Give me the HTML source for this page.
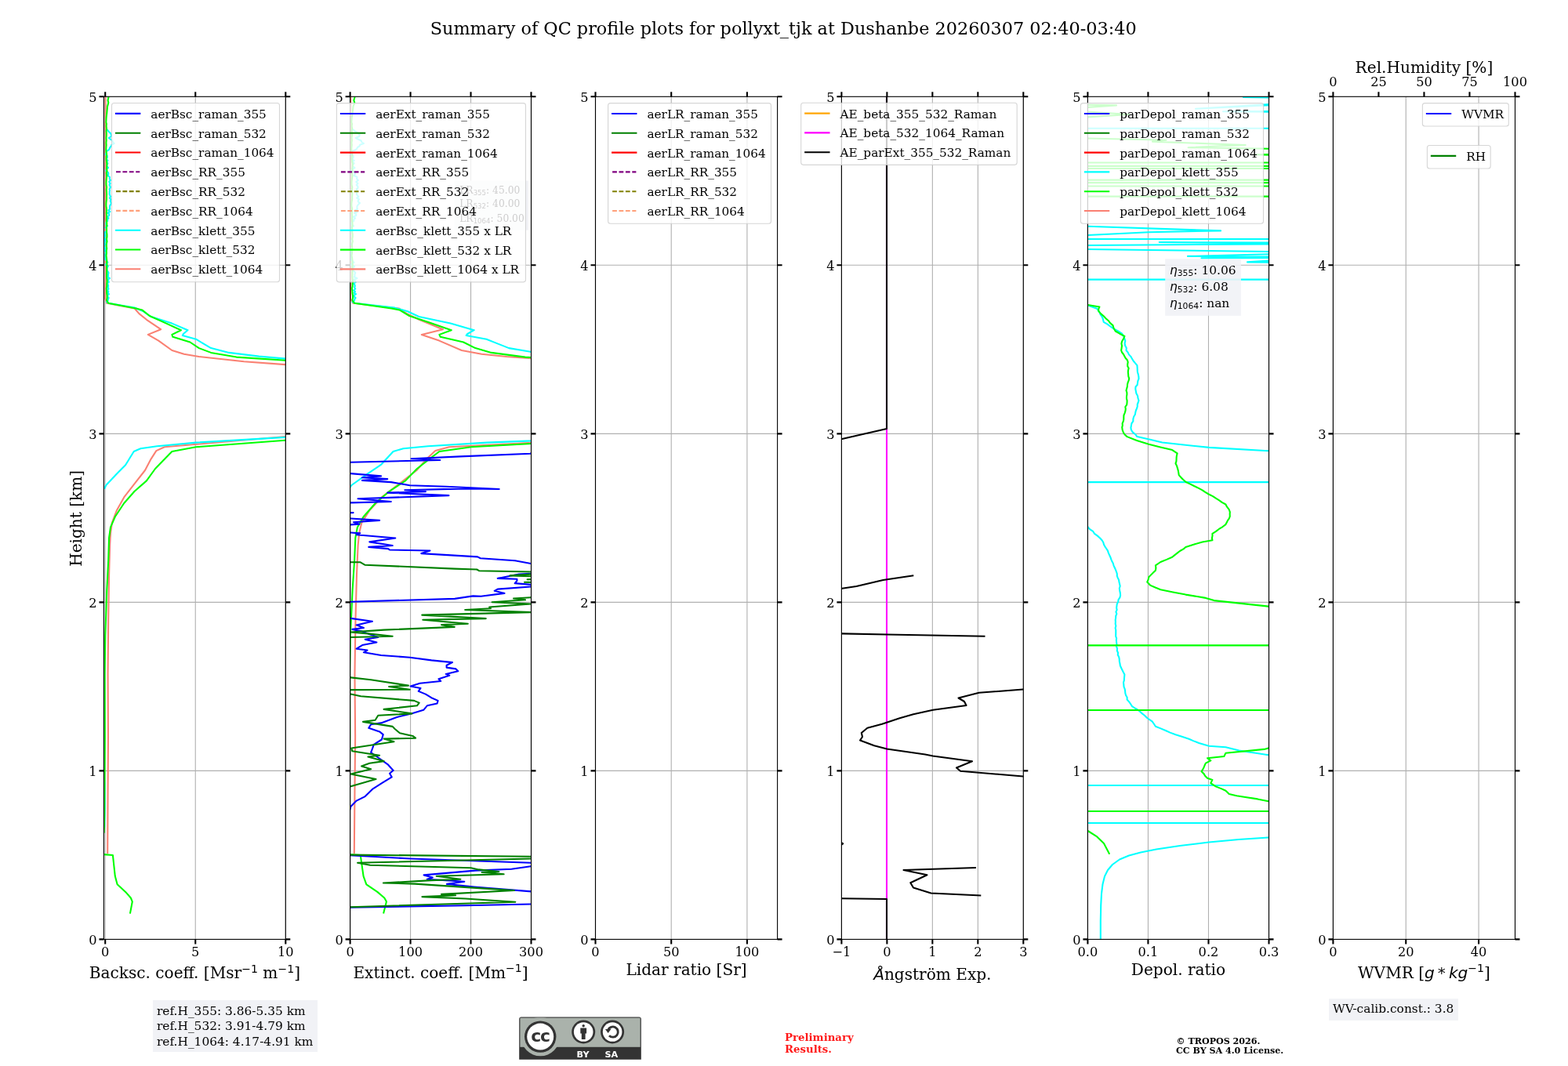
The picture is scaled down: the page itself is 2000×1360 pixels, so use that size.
<!DOCTYPE html><html><head><meta charset="utf-8"><title>QC profile summary</title>
<style>html,body{margin:0;padding:0;background:#fff;overflow:hidden}svg{display:block}</style></head><body>
<svg width="2000" height="1360" viewBox="0 0 2000 1360" font-family="'DejaVu Serif', 'Liberation Serif', serif">
<rect x="0" y="0" width="2000" height="1360" fill="#fff"/>
<defs>
<clipPath id="c0"><rect x="132.45" y="123.3" width="231.85" height="1075.1"/></clipPath>
<clipPath id="c1"><rect x="446.6" y="123.3" width="230.9" height="1075.1"/></clipPath>
<clipPath id="c2"><rect x="759.5" y="123.3" width="232.1" height="1075.1"/></clipPath>
<clipPath id="c3"><rect x="1073.4" y="123.3" width="231.9" height="1075.1"/></clipPath>
<clipPath id="c4"><rect x="1387.4" y="123.3" width="231.1" height="1075.1"/></clipPath>
<clipPath id="c5"><rect x="1700.4" y="123.3" width="232.1" height="1075.1"/></clipPath>
</defs>
<text x="999.2" y="43.6" font-size="22.35" text-anchor="middle">Summary of QC profile plots for pollyxt_tjk at Dushanbe 20260307 02:40-03:40</text>
<path d="M134.21 123.3V1198.4M249.25 123.3V1198.4M364.3 123.3V1198.4M132.45 983.38H364.3M132.45 768.36H364.3M132.45 553.34H364.3M132.45 338.32H364.3" stroke="#b0b0b0" stroke-width="1.1" fill="none"/>
<polyline points="134.48,123 134.51,129 134.68,135 134.57,141 134.54,147 134.56,153 134.4,159 134.46,165 134.53,171 134.63,177 134.4,183 134.37,189 134.27,195 134.51,201 134.58,207 134.36,213 134.62,219 134.75,225 134.68,231 134.64,237 134.43,243 134.27,249 134.4,255 134.27,261 134.26,267 134.28,273 134.2,279 134.34,285 134.39,291 134.58,297 134.55,303 134.58,309 134.54,315 134.59,321 134.53,327 134.42,333 134.66,339 134.78,345 134.78,351 134.72,357 134.54,363 134.41,369 134.37,375 134.26,381 136.3,386.8 171.6,393.5 177.4,400.1 186.9,407.8 205.1,420.2 188.8,426.9 202.2,434.6 219.4,447 234.7,451.8 253.8,455 311.2,461.3 363.8,465.1 420,468 3000,480 3000,545 420,555 363.8,557 253.8,566.5 209.9,570.3 199.3,575.1 192.6,585.6 185,600 171.6,617.2 158.2,634.4 148.7,651.6 142.9,666.9 141,680.3 140.1,695.6 139.1,733.8 138.2,791.2 137.6,860 138,940 137.6,1010 137.2,1089.1" fill="none" stroke="#fa8072" stroke-width="2.08" stroke-linejoin="round" stroke-linecap="butt" clip-path="url(#c0)"/>
<polyline points="135.62,164.4 137.28,166.2 138.77,168 140.9,170 142.12,172 141.85,174 138.78,176 141.06,177.75 143.45,179.5 143.84,181.25 145.64,183 142.39,184.67 142.12,186.33 140.34,188 139.78,189.67 138.53,191.33 135.73,193 135.41,195 134.73,197 136.78,199 136.79,201 135.61,203 137.47,204.8 135.96,206.6 137.41,208.4 136.33,210.2 136.2,212 137.97,214 135.74,216 135.26,218 137.92,220 138.3,222 137.45,224 140,226 139.7,228 140.86,230 139.17,232 140.61,234 139.5,236 140.56,237.75 140.72,239.5 139.53,241.25 140.04,243 139.64,244.6 139.7,246.2 139.6,247.8 140.32,249.4 141.22,251 139.77,252.6 141.63,254.2 140.86,255.8 140.9,257.4 142.33,259 140.95,261 140.02,263 139.95,265 140.24,266.67 138.27,268.33 140.37,270 137.6,271.67 139.21,273.33 139.16,275 136.72,276.67 138.44,278.33 137.05,280 137.28,281.67 135.48,283.33 135.25,285 135.28,286.67 136.97,288.33 134.68,290 135.81,291.67 135.94,293.33 135.65,295 133.86,296.6 133.64,298.2 133.84,299.8 134.26,301.4 132.28,303 134,304.75 134.17,306.5 134.39,308.25 132.3,310 134.74,311.67 132.6,313.33 133.34,315 134.12,316.67 135,318.33 133.58,320 135.35,321.67 134.62,323.33 134.26,325 134.52,326.67 134.41,328.33 134.4,330 134.75,331.62 136.32,333.25 137.28,334.88 135.27,336.5 135.14,338.12 137.74,339.75 136.72,341.38 136.56,343 136.42,344.71 137.64,346.43 138.55,348.14 137.88,349.86 138.1,351.57 137.44,353.29 139.98,355 137.37,356.67 138.25,358.33 138.83,360 136.67,361.67 137.92,363.33 138.17,365 137.71,366.75 138.5,368.5 137.1,370.25 138.33,372 137.37,373.6 138.96,375.2 137.31,376.8 137.5,378.4 138.7,380 137.85,381.67 137.7,383.33 136,385 138.2,386.8 171.6,392.5 183,397.3 192.6,404 219.4,412.6 239.5,421.2 233.8,426 232.8,427.9 250,432.7 257.7,437.4 269.1,444.1 292.1,449.9 330.3,454.6 364.4,457.6 420,459 3000,470 3000,545 420,556 363.8,557.9 250,564.6 200.3,569.3 179.3,572.2 170.7,576 160.1,593.2 148.7,604.7 135.3,619 133.4,623 100,628" fill="none" stroke="#00ffff" stroke-width="2.08" stroke-linejoin="round" stroke-linecap="butt" clip-path="url(#c0)"/>
<polyline points="110,975 132.6,984 133.4,1000 133.6,1030 133.2,1055 110,1062" fill="none" stroke="#00ffff" stroke-width="2.08" stroke-linejoin="round" stroke-linecap="butt" clip-path="url(#c0)"/>
<polyline points="138.6,123 138.4,124.3 137.6,128 138.3,131 137,136 136.2,145 135.6,150 135.3,156 135.82,158 135.56,161 135.93,164 135.54,167 135.81,170 135.77,173 135.44,176 135.73,179 135.4,182 135.63,185 135.39,188 135.28,191 135.57,194 136.11,197 135.68,200 135.56,203 135.91,206 136.4,209 136.28,212 136.04,215 136.49,218 135.79,221 136.26,224 135.92,227 135.6,230 135.42,233 135.52,236 136.08,239 135.72,242 135.94,245 136.11,248 135.93,251 136.01,254 135.57,257 135.34,260 135.38,263 135.87,266 135.86,269 135.75,272 135.96,275 135.93,278 135.77,281 136.18,284 136.29,287 135.89,290 136.02,293 136.03,296 136.39,299 136.43,302 136,305 136.48,308 135.86,311 135.85,314 136.18,317 135.74,320 135.86,323 135.47,326 135.9,329 136.22,332 136.18,335 136.47,338 136.05,341 136.22,344 136.2,347 136.18,350 136.05,353 136.36,356 136.63,359 136.29,362 136.31,365 135.71,368 136.06,371 136.18,374 136.58,377 136.61,380 136.09,383 138.2,386.8 173.5,393.5 181.2,395.4 190.7,403 209.9,411.6 230.9,421.2 219.4,426.9 220.4,429.8 242.4,436.5 253.8,444.1 269.1,449.9 301.6,455.6 363.8,459.8 420,461 3000,470 3000,545 420,560 363.8,561.7 250,570.3 219.4,576 211.8,583.7 198,598 186.9,613.4 171.6,626.8 158.2,642 146.8,659.3 141,672.7 139.1,686 138.2,714.7 136.3,753 134.3,810.3 133.6,860 133.8,940 133.2,1040 132.6,1062 110,1068" fill="none" stroke="#00ff00" stroke-width="2.08" stroke-linejoin="round" stroke-linecap="butt" clip-path="url(#c0)"/>
<polyline points="110,1090 132.4,1090.1 143.9,1091 146.8,1117.8 149.6,1128.3 160.1,1137.9 166.8,1145.5 168.8,1150.3 165.9,1165.6" fill="none" stroke="#00ff00" stroke-width="2.08" stroke-linejoin="round" stroke-linecap="butt" clip-path="url(#c0)"/>
<rect x="132.45" y="123.3" width="231.85" height="1075.1" fill="none" stroke="#000" stroke-width="1.11"/>
<path d="M126.45 1198.4H132.45M364.3 1198.4H370.3M126.45 983.38H132.45M364.3 983.38H370.3M126.45 768.36H132.45M364.3 768.36H370.3M126.45 553.34H132.45M364.3 553.34H370.3M126.45 338.32H132.45M364.3 338.32H370.3M126.45 123.3H132.45M364.3 123.3H370.3M134.21 1198.4V1204.4M134.21 117.3V123.3M249.25 1198.4V1204.4M249.25 117.3V123.3M364.3 1198.4V1204.4M364.3 117.3V123.3" stroke="#000" stroke-width="2.08" fill="none"/>
<text x="123.55" y="1205.2" font-size="16.2" text-anchor="end">0</text>
<text x="123.55" y="990.18" font-size="16.2" text-anchor="end">1</text>
<text x="123.55" y="775.16" font-size="16.2" text-anchor="end">2</text>
<text x="123.55" y="560.14" font-size="16.2" text-anchor="end">3</text>
<text x="123.55" y="345.12" font-size="16.2" text-anchor="end">4</text>
<text x="123.55" y="130.1" font-size="16.2" text-anchor="end">5</text>
<text x="134.21" y="1219.7" font-size="16.2" text-anchor="middle">0</text>
<text x="249.25" y="1219.7" font-size="16.2" text-anchor="middle">5</text>
<text x="364.3" y="1219.7" font-size="16.2" text-anchor="middle">10</text>
<path d="M446.6 123.3V1198.4M523.57 123.3V1198.4M600.53 123.3V1198.4M677.5 123.3V1198.4M446.6 983.38H677.5M446.6 768.36H677.5M446.6 553.34H677.5M446.6 338.32H677.5" stroke="#b0b0b0" stroke-width="1.1" fill="none"/>
<polyline points="447.27,123 447.32,129 447.59,135 447.42,141 447.37,147 447.39,153 447.14,159 447.23,165 447.35,171 447.52,177 447.14,183 447.09,189 446.92,195 447.32,201 447.44,207 447.06,213 447.5,219 447.71,225 447.61,231 447.53,237 447.19,243 446.92,249 447.13,255 446.92,261 446.9,267 446.93,273 446.8,279 447.03,285 447.12,291 447.44,297 447.38,303 447.43,309 447.37,315 447.44,321 447.34,327 447.17,333 447.57,339 447.76,345 447.76,351 447.67,357 447.36,363 447.15,369 447.08,375 446.91,381 450.3,386.8 509.13,393.5 518.8,400.1 534.63,407.8 564.97,420.2 537.8,426.9 560.13,434.6 588.8,447 614.3,451.8 646.13,455 741.8,461.3 829.47,465.1 923.13,468 5223.13,480 5223.13,545 923.13,555 829.47,557 646.13,566.5 572.97,570.3 555.3,575.1 544.13,585.6 531.47,600 509.13,617.2 486.8,634.4 470.97,651.6 461.3,666.9 458.13,680.3 456.63,695.6 454.97,733.8 453.47,791.2 452.47,860 453.13,940 452.47,1010 451.8,1089.1" fill="none" stroke="#fa8072" stroke-width="2.08" stroke-linejoin="round" stroke-linecap="butt" clip-path="url(#c1)"/>
<polyline points="448.93,164.4 451.42,166.2 453.65,168 456.85,170 458.69,172 458.27,174 453.66,176 457.09,177.75 460.68,179.5 461.26,181.25 463.96,183 459.09,184.67 458.68,186.33 456.01,188 455.17,189.67 453.29,191.33 449.1,193 448.62,195 447.59,197 450.67,199 450.69,201 448.92,203 451.71,204.8 449.44,206.6 451.61,208.4 449.99,210.2 449.81,212 452.45,214 449.12,216 448.39,218 452.38,220 452.95,222 451.68,224 455.5,226 455.05,228 456.79,230 454.25,232 456.42,234 454.74,236 456.34,237.75 456.59,239.5 454.79,241.25 455.56,243 454.96,244.6 455.05,246.2 454.9,247.8 455.99,249.4 457.33,251 455.15,252.6 457.95,254.2 456.79,255.8 456.84,257.4 458.99,259 456.92,261 455.53,263 455.43,265 455.86,266.67 452.91,268.33 456.05,270 451.91,271.67 454.31,273.33 454.25,275 450.59,276.67 453.16,278.33 451.08,280 451.42,281.67 448.72,283.33 448.38,285 448.42,286.67 450.96,288.33 447.52,290 449.21,291.67 449.41,293.33 448.97,295 446.28,296.6 445.96,298.2 446.27,299.8 446.88,301.4 443.92,303 446.49,304.75 446.76,306.5 447.08,308.25 443.94,310 447.61,311.67 444.41,313.33 445.5,315 446.68,316.67 448.01,318.33 445.88,320 448.53,321.67 447.43,323.33 446.89,325 447.29,326.67 447.12,328.33 447.1,330 447.62,331.62 449.98,333.25 451.42,334.88 448.4,336.5 448.21,338.12 452.11,339.75 450.59,341.38 450.33,343 450.13,344.71 451.97,346.43 453.32,348.14 452.33,349.86 452.64,351.57 451.67,353.29 455.47,355 451.55,356.67 452.87,358.33 453.74,360 450.51,361.67 452.38,363.33 452.75,365 452.07,366.75 453.25,368.5 451.15,370.25 452.99,372 451.55,373.6 453.93,375.2 451.46,376.8 451.75,378.4 453.55,380 452.27,381.67 452.06,383.33 449.5,385 452.8,386.8 502.9,392.5 520,397.3 534.4,404 574.6,412.6 604.75,421.2 596.2,426 594.7,427.9 620.5,432.7 632.05,437.4 649.15,444.1 683.65,449.9 740.95,454.6 792.1,457.6 875.5,459 4745.5,470 4745.5,545 875.5,556 791.2,557.9 620.5,564.6 545.95,569.3 514.45,572.2 501.55,576 485.65,593.2 468.55,604.7 448.45,619 445.6,623 395.5,628" fill="none" stroke="#00ffff" stroke-width="2.08" stroke-linejoin="round" stroke-linecap="butt" clip-path="url(#c1)"/>
<polyline points="410.5,975 444.4,984 445.6,1000 445.9,1030 445.3,1055 410.5,1062" fill="none" stroke="#00ffff" stroke-width="2.08" stroke-linejoin="round" stroke-linecap="butt" clip-path="url(#c1)"/>
<polyline points="452.67,123 452.4,124.3 451.33,128 452.27,131 450.53,136 449.47,145 448.67,150 448.27,156 448.97,158 448.62,161 449.11,164 448.58,167 448.94,170 448.89,173 448.46,176 448.84,179 448.4,182 448.71,185 448.38,188 448.25,191 448.62,194 449.35,197 448.77,200 448.62,203 449.08,206 449.74,209 449.57,212 449.25,215 449.86,218 448.92,221 449.54,224 449.09,227 448.67,230 448.43,233 448.56,236 449.3,239 448.82,242 449.12,245 449.35,248 449.1,251 449.22,254 448.62,257 448.33,260 448.37,263 449.03,266 449.02,269 448.86,272 449.14,275 449.11,278 448.89,281 449.44,284 449.58,287 449.05,290 449.22,293 449.25,296 449.72,299 449.77,302 449.2,305 449.84,308 449.01,311 449,314 449.44,317 448.86,320 449.01,323 448.49,326 449.07,329 449.49,332 449.44,335 449.82,338 449.26,341 449.49,344 449.47,347 449.44,350 449.26,353 449.68,356 450.04,359 449.58,362 449.61,365 448.82,368 449.28,371 449.44,374 449.98,377 450.02,380 449.32,383 452.13,386.8 499.2,393.5 509.47,395.4 522.13,403 547.73,411.6 575.73,421.2 560.4,426.9 561.73,429.8 591.07,436.5 606.27,444.1 626.67,449.9 670,455.6 752.93,459.8 827.87,461 4267.87,470 4267.87,545 827.87,560 752.93,561.7 601.2,570.3 560.4,576 550.27,583.7 531.87,598 517.07,613.4 496.67,626.8 478.8,642 463.6,659.3 455.87,672.7 453.33,686 452.13,714.7 449.6,753 446.93,810.3 446,860 446.27,940 445.47,1040 444.67,1062 414.53,1068" fill="none" stroke="#00ff00" stroke-width="2.08" stroke-linejoin="round" stroke-linecap="butt" clip-path="url(#c1)"/>
<polyline points="414.53,1090 444.4,1090.1 459.73,1091 463.6,1117.8 467.33,1128.3 481.33,1137.9 490.27,1145.5 492.93,1150.3 489.07,1165.6" fill="none" stroke="#00ff00" stroke-width="2.08" stroke-linejoin="round" stroke-linecap="butt" clip-path="url(#c1)"/>
<polyline points="720,576 680,577.5 676.2,578.7 587,582.4 524.6,585.2 561.3,587 447.4,589.8 420,590.3" fill="none" stroke="#0000ff" stroke-width="2.08" stroke-linejoin="round" stroke-linecap="butt" clip-path="url(#c1)"/>
<polyline points="420,603.5 447.4,604.1 486,607.4 462,609.3 494.2,611.1 462,612.9 498.8,615.1 522.7,619.2 568.7,620.7 636.7,624 596.3,623.4 516.3,625.3 542.9,627.1 494.2,628.6 572.4,632.1 456.5,636.3 498.8,640 447.4,641.4 420,642" fill="none" stroke="#0000ff" stroke-width="2.08" stroke-linejoin="round" stroke-linecap="butt" clip-path="url(#c1)"/>
<polyline points="420,654 450.6,654.1 420,654.4" fill="none" stroke="#0000ff" stroke-width="2.08" stroke-linejoin="round" stroke-linecap="butt" clip-path="url(#c1)"/>
<polyline points="420,661.3 447.4,661.5 484.1,663.9 451,666.3 458.4,668.8 447.4,669.4 420,669.8" fill="none" stroke="#0000ff" stroke-width="2.08" stroke-linejoin="round" stroke-linecap="butt" clip-path="url(#c1)"/>
<polyline points="420,679.3 447.4,679.5 459.3,680.4 454.7,682.2 504.3,686.5 471.3,691.4 500.7,696 470.3,697.9 495.1,700.1 497,701.5 548.5,702.5 537.4,706.1 609.1,710.4 612.8,712.2 656.9,715.3 677.1,719 720,724" fill="none" stroke="#0000ff" stroke-width="2.08" stroke-linejoin="round" stroke-linecap="butt" clip-path="url(#c1)"/>
<polyline points="720,731.5 677,731.7 662,732.6 634.7,737.9 659.4,738.8 659.4,741 656.7,744.1 677,745.9 720,747 677,748.5 634.7,751.6 630.7,753.8 643.5,756.9 613.5,760.8 603.4,760.4 580,763.9 447.4,767.7 420,768" fill="none" stroke="#0000ff" stroke-width="2.08" stroke-linejoin="round" stroke-linecap="butt" clip-path="url(#c1)"/>
<polyline points="420,788.5 447.4,788.9 474.9,792.8 454.7,797.4 463.9,801 449.2,802.9 462.1,805.6 469.4,808.4 482.3,813 465.7,815.7 480.4,819.4 462.1,823.1 454.7,827.7 468.5,829.5 463.9,832.3 486,836 522.7,838.7 550.3,842.4 577,845.1 569.6,848.8 569.6,851.6 581.5,853.4 584.3,856.2 568.7,859.9 573.3,861.7 559.5,866.3 562.2,869 535.6,871.8 523.6,875.5 536.5,877.9 533.8,881.9 542.9,885.6 550.3,890.2 558.6,893.9 557.6,897.5 544.8,900.3 540.2,905.8 524.6,910.4 506.2,915 486,922.4 473.1,924.2 470.3,928.8 484.1,933.4 488.7,937.1 486.9,943.5 476.8,949.9 474.9,955.4 473.1,960 482.3,966.5 495.1,975.7 501.6,983 497,986.7 499.7,991.3 487.8,998.6 474.9,1006.9 465.7,1016.1 454.7,1021.6 447.4,1029 446.4,1032.6 420,1040" fill="none" stroke="#0000ff" stroke-width="2.08" stroke-linejoin="round" stroke-linecap="butt" clip-path="url(#c1)"/>
<polyline points="420,1091 446.3,1091.3 523.8,1095.5 676.9,1100.8 720,1102 720,1104 676.9,1105.2 652.4,1108.7 606.3,1110.6 540.6,1116.4 551.8,1119.5 544.8,1121.7 592.3,1124.8 570,1127.9 604.9,1131.5 677.6,1137.4 720,1141 720,1152 676.9,1153.5 593.7,1155.3 446.3,1157.6 420,1158" fill="none" stroke="#0000ff" stroke-width="2.08" stroke-linejoin="round" stroke-linecap="butt" clip-path="url(#c1)"/>
<polyline points="420,717 447.4,717.2 459.3,717.2 465.7,720.8 580,725.6 600,726.2 608.2,726.5 611,728.2 677,729.5 720,730 720,732.4 677,732.6 650.5,734.4 677,735.3 720,736 720,738.5 672.6,739.2 720,740 720,742.5 669,742.8 720,743.5 720,761 677,762.2 655,763.5 670,765.3 627.6,768.3 677,770.5 624.1,774.5 625.9,776.3 593.2,778 677,781.1 538.3,784.6 619.7,789.1 539.3,790.7 596.8,795.7 563.2,797.1 579.7,799.9 489.6,803.6 447.4,806.5 469.4,808.4 500.7,811.7 447.4,813 420,813.5" fill="none" stroke="#008000" stroke-width="2.08" stroke-linejoin="round" stroke-linecap="butt" clip-path="url(#c1)"/>
<polyline points="420,864 447.4,864.4 473.1,867.2 520.9,874.6 496.1,876 522.7,879.7 447.4,880.1 420,880.5" fill="none" stroke="#008000" stroke-width="2.08" stroke-linejoin="round" stroke-linecap="butt" clip-path="url(#c1)"/>
<polyline points="420,885.4 447.4,885.6 460.2,888.3 528.2,893.9 534.7,896.6 531.9,900.3 489.6,904.9 525.5,910.4 482.3,912.8 478.6,918.7 463,920.9 500.7,926.9 503.4,929.7 509.9,935.2 526.4,938.9 530.1,941.7 489.6,942.6 502.5,946.3 448.3,954.5 449.2,958.2 484.1,963.7 469.4,965.5 489.6,971.1 471.3,973.8 461.1,977.5 473.1,981.2 447.4,987.6 479.5,994 447.4,1003.2 420,1005" fill="none" stroke="#008000" stroke-width="2.08" stroke-linejoin="round" stroke-linecap="butt" clip-path="url(#c1)"/>
<polyline points="420,1090.5 447,1090.6 676.9,1092.7 720,1093 720,1095 676.9,1095.5 456.1,1100.8 472.1,1103.8 600.7,1107.3 610.5,1109.4 636.3,1112 614.7,1112.9 642.6,1115.3 556.7,1117.8 587.4,1121.7 550.4,1123.1 488.9,1126.5 529.4,1127.6 607.7,1132.9 655.9,1136 563,1140.9 581.1,1142.3 538.5,1144.1 593.7,1146.5 657.3,1150.7 447,1157.2 420,1157.5" fill="none" stroke="#008000" stroke-width="2.08" stroke-linejoin="round" stroke-linecap="butt" clip-path="url(#c1)"/>
<rect x="446.6" y="123.3" width="230.9" height="1075.1" fill="none" stroke="#000" stroke-width="1.11"/>
<path d="M440.6 1198.4H446.6M677.5 1198.4H683.5M440.6 983.38H446.6M677.5 983.38H683.5M440.6 768.36H446.6M677.5 768.36H683.5M440.6 553.34H446.6M677.5 553.34H683.5M440.6 338.32H446.6M677.5 338.32H683.5M440.6 123.3H446.6M677.5 123.3H683.5M446.6 1198.4V1204.4M446.6 117.3V123.3M523.57 1198.4V1204.4M523.57 117.3V123.3M600.53 1198.4V1204.4M600.53 117.3V123.3M677.5 1198.4V1204.4M677.5 117.3V123.3" stroke="#000" stroke-width="2.08" fill="none"/>
<text x="437.7" y="1205.2" font-size="16.2" text-anchor="end">0</text>
<text x="437.7" y="990.18" font-size="16.2" text-anchor="end">1</text>
<text x="437.7" y="775.16" font-size="16.2" text-anchor="end">2</text>
<text x="437.7" y="560.14" font-size="16.2" text-anchor="end">3</text>
<text x="437.7" y="345.12" font-size="16.2" text-anchor="end">4</text>
<text x="437.7" y="130.1" font-size="16.2" text-anchor="end">5</text>
<text x="446.6" y="1219.7" font-size="16.2" text-anchor="middle">0</text>
<text x="523.57" y="1219.7" font-size="16.2" text-anchor="middle">100</text>
<text x="600.53" y="1219.7" font-size="16.2" text-anchor="middle">200</text>
<text x="677.5" y="1219.7" font-size="16.2" text-anchor="middle">300</text>
<path d="M759.5 123.3V1198.4M856.21 123.3V1198.4M952.92 123.3V1198.4M759.5 983.38H991.6M759.5 768.36H991.6M759.5 553.34H991.6M759.5 338.32H991.6" stroke="#b0b0b0" stroke-width="1.1" fill="none"/>
<rect x="759.5" y="123.3" width="232.1" height="1075.1" fill="none" stroke="#000" stroke-width="1.11"/>
<path d="M753.5 1198.4H759.5M991.6 1198.4H997.6M753.5 983.38H759.5M991.6 983.38H997.6M753.5 768.36H759.5M991.6 768.36H997.6M753.5 553.34H759.5M991.6 553.34H997.6M753.5 338.32H759.5M991.6 338.32H997.6M753.5 123.3H759.5M991.6 123.3H997.6M759.5 1198.4V1204.4M759.5 117.3V123.3M856.21 1198.4V1204.4M856.21 117.3V123.3M952.92 1198.4V1204.4M952.92 117.3V123.3" stroke="#000" stroke-width="2.08" fill="none"/>
<text x="750.6" y="1205.2" font-size="16.2" text-anchor="end">0</text>
<text x="750.6" y="990.18" font-size="16.2" text-anchor="end">1</text>
<text x="750.6" y="775.16" font-size="16.2" text-anchor="end">2</text>
<text x="750.6" y="560.14" font-size="16.2" text-anchor="end">3</text>
<text x="750.6" y="345.12" font-size="16.2" text-anchor="end">4</text>
<text x="750.6" y="130.1" font-size="16.2" text-anchor="end">5</text>
<text x="759.5" y="1219.7" font-size="16.2" text-anchor="middle">0</text>
<text x="856.21" y="1219.7" font-size="16.2" text-anchor="middle">50</text>
<text x="952.92" y="1219.7" font-size="16.2" text-anchor="middle">100</text>
<path d="M1073.4 123.3V1198.4M1131.38 123.3V1198.4M1189.35 123.3V1198.4M1247.33 123.3V1198.4M1305.3 123.3V1198.4M1073.4 983.38H1305.3M1073.4 768.36H1305.3M1073.4 553.34H1305.3M1073.4 338.32H1305.3" stroke="#b0b0b0" stroke-width="1.1" fill="none"/>
<polyline points="1131,123 1131,1198.4" fill="none" stroke="#ff00ff" stroke-width="2.08" stroke-linejoin="round" stroke-linecap="butt" clip-path="url(#c3)"/>
<polyline points="1131,110 1131,546.9 1074.1,559.9 1050,565" fill="none" stroke="#000000" stroke-width="2.08" stroke-linejoin="round" stroke-linecap="butt" clip-path="url(#c3)"/>
<polyline points="1050,753 1074.1,750.7 1092.4,748 1126.5,740 1165.3,734.3" fill="none" stroke="#000000" stroke-width="2.08" stroke-linejoin="round" stroke-linecap="butt" clip-path="url(#c3)"/>
<polyline points="1050,808 1074.1,808.4 1131.1,809.5 1256.5,811.8" fill="none" stroke="#000000" stroke-width="2.08" stroke-linejoin="round" stroke-linecap="butt" clip-path="url(#c3)"/>
<polyline points="1330,879 1305,879.5 1248.8,883.8 1222.5,890.5 1230,895 1232.5,900 1190,905.8 1165,911.3 1147.5,916.3 1125,923.8 1106.3,928.8 1098.8,935 1100,940 1097,944.5 1115,951.3 1131.3,955.5 1180,962.5 1190,964.5 1240,971.3 1220,979.5 1225,983.8 1305,990.5 1330,992" fill="none" stroke="#000000" stroke-width="2.08" stroke-linejoin="round" stroke-linecap="butt" clip-path="url(#c3)"/>
<polyline points="1245,1107 1152.5,1110 1182.5,1116.3 1161.3,1126.3 1165,1132.5 1187.5,1139.5 1251.3,1142.5" fill="none" stroke="#000000" stroke-width="2.08" stroke-linejoin="round" stroke-linecap="butt" clip-path="url(#c3)"/>
<polyline points="1072.5,1074.6 1075.2,1076.3 1072.5,1078" fill="none" stroke="#000000" stroke-width="2.08" stroke-linejoin="round" stroke-linecap="butt" clip-path="url(#c3)"/>
<polyline points="1050,1146.2 1073.8,1146.3 1131,1147 1131,1210" fill="none" stroke="#000000" stroke-width="2.08" stroke-linejoin="round" stroke-linecap="butt" clip-path="url(#c3)"/>
<rect x="1073.4" y="123.3" width="231.9" height="1075.1" fill="none" stroke="#000" stroke-width="1.11"/>
<path d="M1067.4 1198.4H1073.4M1305.3 1198.4H1311.3M1067.4 983.38H1073.4M1305.3 983.38H1311.3M1067.4 768.36H1073.4M1305.3 768.36H1311.3M1067.4 553.34H1073.4M1305.3 553.34H1311.3M1067.4 338.32H1073.4M1305.3 338.32H1311.3M1067.4 123.3H1073.4M1305.3 123.3H1311.3M1073.4 1198.4V1204.4M1073.4 117.3V123.3M1131.38 1198.4V1204.4M1131.38 117.3V123.3M1189.35 1198.4V1204.4M1189.35 117.3V123.3M1247.33 1198.4V1204.4M1247.33 117.3V123.3M1305.3 1198.4V1204.4M1305.3 117.3V123.3" stroke="#000" stroke-width="2.08" fill="none"/>
<text x="1064.5" y="1205.2" font-size="16.2" text-anchor="end">0</text>
<text x="1064.5" y="990.18" font-size="16.2" text-anchor="end">1</text>
<text x="1064.5" y="775.16" font-size="16.2" text-anchor="end">2</text>
<text x="1064.5" y="560.14" font-size="16.2" text-anchor="end">3</text>
<text x="1064.5" y="345.12" font-size="16.2" text-anchor="end">4</text>
<text x="1064.5" y="130.1" font-size="16.2" text-anchor="end">5</text>
<text x="1073.4" y="1219.7" font-size="16.2" text-anchor="middle">−1</text>
<text x="1131.38" y="1219.7" font-size="16.2" text-anchor="middle">0</text>
<text x="1189.35" y="1219.7" font-size="16.2" text-anchor="middle">1</text>
<text x="1247.33" y="1219.7" font-size="16.2" text-anchor="middle">2</text>
<text x="1305.3" y="1219.7" font-size="16.2" text-anchor="middle">3</text>
<path d="M1387.4 123.3V1198.4M1464.43 123.3V1198.4M1541.47 123.3V1198.4M1618.5 123.3V1198.4M1387.4 983.38H1618.5M1387.4 768.36H1618.5M1387.4 553.34H1618.5M1387.4 338.32H1618.5" stroke="#b0b0b0" stroke-width="1.1" fill="none"/>
<polyline points="1585,124 1640,124.6" fill="none" stroke="#00ffff" stroke-width="2.08" stroke-linejoin="round" stroke-linecap="butt" clip-path="url(#c4)"/>
<polyline points="1640,131.8 1525,138.7 1640,133.2" fill="none" stroke="#00ffff" stroke-width="2.08" stroke-linejoin="round" stroke-linecap="butt" clip-path="url(#c4)"/>
<polyline points="1640,141.8 1560,142.3 1640,143" fill="none" stroke="#00ffff" stroke-width="2.08" stroke-linejoin="round" stroke-linecap="butt" clip-path="url(#c4)"/>
<polyline points="1370,163.75 1640,163.75" fill="none" stroke="#00ffff" stroke-width="2.08" stroke-linejoin="round" stroke-linecap="butt" clip-path="url(#c4)"/>
<polyline points="1370,288.5 1387.5,288.75 1557,294.4 1465,296.25 1387.5,300 1370,300.2" fill="none" stroke="#00ffff" stroke-width="2.08" stroke-linejoin="round" stroke-linecap="butt" clip-path="url(#c4)"/>
<polyline points="1370,305 1640,305" fill="none" stroke="#00ffff" stroke-width="2.08" stroke-linejoin="round" stroke-linecap="butt" clip-path="url(#c4)"/>
<polyline points="1640,309.6 1478.75,309 1640,310.6" fill="none" stroke="#00ffff" stroke-width="2.08" stroke-linejoin="round" stroke-linecap="butt" clip-path="url(#c4)"/>
<polyline points="1370,313.1 1640,311.3" fill="none" stroke="#00ffff" stroke-width="2.08" stroke-linejoin="round" stroke-linecap="butt" clip-path="url(#c4)"/>
<polyline points="1370,317.75 1640,321.25" fill="none" stroke="#00ffff" stroke-width="2.08" stroke-linejoin="round" stroke-linecap="butt" clip-path="url(#c4)"/>
<polyline points="1640,323.7 1515,326.9 1640,327.6" fill="none" stroke="#00ffff" stroke-width="2.08" stroke-linejoin="round" stroke-linecap="butt" clip-path="url(#c4)"/>
<polyline points="1640,328 1532.5,329.4 1640,329" fill="none" stroke="#00ffff" stroke-width="2.08" stroke-linejoin="round" stroke-linecap="butt" clip-path="url(#c4)"/>
<polyline points="1640,331.2 1591,334.4 1640,335" fill="none" stroke="#00ffff" stroke-width="2.08" stroke-linejoin="round" stroke-linecap="butt" clip-path="url(#c4)"/>
<polyline points="1370,356.6 1640,356.6" fill="none" stroke="#00ffff" stroke-width="2.08" stroke-linejoin="round" stroke-linecap="butt" clip-path="url(#c4)"/>
<polyline points="1370,389.5 1387.5,389.5 1399.2,393.7 1400.86,396.26 1402.75,398.82 1403.64,401.38 1405.5,403.94 1406.7,406.5 1407.7,410.8 1412.58,413.63 1416.26,416.47 1420.5,419.3 1426.18,422.5 1431.2,425.7 1433.12,428.9 1434.4,432.1 1435.32,435.08 1434.59,438.06 1435.2,441.04 1436.78,444.02 1436.5,447 1438.72,449.68 1439.92,452.35 1442.46,455.02 1444,457.7 1445.67,460.53 1448.07,463.37 1450.4,466.2 1450.67,469.05 1450.72,471.9 1450.94,474.75 1451.81,477.6 1452.36,480.45 1452.5,483.3 1451.41,485.86 1451.04,488.42 1450.65,490.98 1448.52,493.54 1448.3,496.1 1448.83,499.08 1449.41,502.06 1451.07,505.04 1451.54,508.02 1452.5,511 1451.72,513.5 1450.75,516 1450.79,518.5 1450.06,521 1448.93,523.5 1448.3,526 1447.85,528.83 1446.12,531.67 1445.38,534.5 1445.34,537.33 1443.42,540.17 1442.9,543 1442.4,545.75 1442.9,548.5 1444.74,551.37 1448.14,554.23 1450.4,557.1 1466.85,560.8 1482.4,564.5 1542.1,570.9 1617.8,575.2 1640,576" fill="none" stroke="#00ffff" stroke-width="2.08" stroke-linejoin="round" stroke-linecap="butt" clip-path="url(#c4)"/>
<polyline points="1370,615.1 1640,615.1" fill="none" stroke="#00ffff" stroke-width="2.08" stroke-linejoin="round" stroke-linecap="butt" clip-path="url(#c4)"/>
<polyline points="1370,671.5 1387.5,672.3 1389.94,675.13 1394.16,677.97 1396.06,680.8 1399.9,683.63 1403.06,686.47 1405.6,689.3 1407.28,691.97 1408,694.65 1409.4,697.33 1411.26,700 1412.94,702.67 1413.85,705.35 1415.02,708.03 1416.3,710.7 1417.21,713.36 1418.29,716.03 1419.79,718.69 1420.45,721.35 1421.66,724.01 1422.86,726.67 1423.92,729.34 1424.8,732 1424.8,734.56 1425.7,737.12 1427.01,739.68 1427.46,742.24 1428,744.8 1428.69,747.78 1427.81,750.76 1428.28,753.74 1428.88,756.72 1429.1,759.7 1428.37,762.38 1426.52,765.05 1426.25,767.73 1424.8,770.4 1424.46,772.96 1424.11,775.52 1424.63,778.08 1423.41,780.64 1424.36,783.2 1423.27,785.76 1423.14,788.32 1422.7,790.88 1422.87,793.44 1422.7,796 1423.34,798.62 1422.63,801.23 1423.26,803.85 1423.26,806.46 1423.23,809.08 1423.15,811.69 1424.11,814.31 1423.87,816.92 1424.11,819.54 1424.46,822.15 1423.93,824.77 1425.08,827.38 1424.8,830 1426.01,832.75 1425.78,835.5 1427.23,838.25 1427.73,841 1427.83,843.75 1428.45,846.5 1428.85,849.25 1430.1,852 1431.41,854.83 1432.9,857.67 1434.4,860.5 1434.16,863.06 1433.93,865.62 1433.81,868.18 1432.99,870.74 1433.3,873.3 1433.53,876.04 1434.61,878.79 1435.1,881.53 1435.3,884.27 1436.06,887.01 1437.66,889.76 1437.6,892.5 1440.15,895.37 1442.18,898.23 1444,901.1 1448.05,903.75 1452.5,906.4 1455.95,909.6 1459.92,912.8 1463.2,916 1469.6,920.3 1471.84,923.5 1473.9,926.7 1480.5,929.35 1486.7,932 1492.45,934.65 1499.5,937.3 1508.3,940 1516.5,942.7 1522.48,945.35 1529.3,948 1542.1,951.8 1563.4,953.3 1580.5,957.6 1601.8,960.8 1617.8,963.3 1640,966" fill="none" stroke="#00ffff" stroke-width="2.08" stroke-linejoin="round" stroke-linecap="butt" clip-path="url(#c4)"/>
<polyline points="1370,1002 1640,1002" fill="none" stroke="#00ffff" stroke-width="2.08" stroke-linejoin="round" stroke-linecap="butt" clip-path="url(#c4)"/>
<polyline points="1370,1050 1640,1050" fill="none" stroke="#00ffff" stroke-width="2.08" stroke-linejoin="round" stroke-linecap="butt" clip-path="url(#c4)"/>
<polyline points="1640,1067.5 1617.8,1068.5 1580,1071 1542,1074.5 1505,1079 1475,1083.5 1455,1087.5 1440,1091.5 1428,1096.5 1419,1103 1413,1110 1409,1118 1406.5,1128 1405,1140 1404.2,1155 1403.8,1175 1403.8,1210" fill="none" stroke="#00ffff" stroke-width="2.08" stroke-linejoin="round" stroke-linecap="butt" clip-path="url(#c4)"/>
<polyline points="1370,133.8 1387.4,133.8 1424,134.4 1387.4,136.9 1370,136.9" fill="none" stroke="#00ff00" stroke-width="2.08" stroke-linejoin="round" stroke-linecap="butt" clip-path="url(#c4)"/>
<polyline points="1370,142.5 1387.4,142.5 1440,146 1387.4,149.4 1370,149.4" fill="none" stroke="#00ff00" stroke-width="2.08" stroke-linejoin="round" stroke-linecap="butt" clip-path="url(#c4)"/>
<polyline points="1370,176.2 1487.5,178.7 1470,180.6 1588.7,185 1515.6,188.2 1640,190" fill="none" stroke="#00ff00" stroke-width="2.08" stroke-linejoin="round" stroke-linecap="butt" clip-path="url(#c4)"/>
<polyline points="1640,196.5 1600,197.3 1640,198.3" fill="none" stroke="#00ff00" stroke-width="2.08" stroke-linejoin="round" stroke-linecap="butt" clip-path="url(#c4)"/>
<polyline points="1370,207.5 1640,207.5" fill="none" stroke="#00ff00" stroke-width="2.08" stroke-linejoin="round" stroke-linecap="butt" clip-path="url(#c4)"/>
<polyline points="1370,211.9 1640,211.9" fill="none" stroke="#00ff00" stroke-width="2.08" stroke-linejoin="round" stroke-linecap="butt" clip-path="url(#c4)"/>
<polyline points="1370,215 1640,215" fill="none" stroke="#00ff00" stroke-width="2.08" stroke-linejoin="round" stroke-linecap="butt" clip-path="url(#c4)"/>
<polyline points="1370,229.6 1640,229.6" fill="none" stroke="#00ff00" stroke-width="2.08" stroke-linejoin="round" stroke-linecap="butt" clip-path="url(#c4)"/>
<polyline points="1370,233.1 1640,233.1" fill="none" stroke="#00ff00" stroke-width="2.08" stroke-linejoin="round" stroke-linecap="butt" clip-path="url(#c4)"/>
<polyline points="1370,237.5 1640,237.5" fill="none" stroke="#00ff00" stroke-width="2.08" stroke-linejoin="round" stroke-linecap="butt" clip-path="url(#c4)"/>
<polyline points="1370,250.6 1640,250.6" fill="none" stroke="#00ff00" stroke-width="2.08" stroke-linejoin="round" stroke-linecap="butt" clip-path="url(#c4)"/>
<polyline points="1370,388.8 1387.5,389 1402.4,391.6 1401.17,394.25 1401.3,396.9 1403.96,400.1 1407.7,403.3 1410.5,406.25 1413.86,409.2 1416.04,412.15 1419.5,415.1 1420.56,418.8 1422.7,422.5 1428.17,425.7 1434.4,428.9 1433.16,432.1 1431.2,435.3 1430.43,438.23 1430.99,441.15 1430.6,444.07 1430.1,447 1431.02,449.5 1433.02,452 1434.33,454.5 1435.71,457 1437.96,459.5 1438.7,462 1438.24,464.6 1438.25,467.2 1439.65,469.8 1439.01,472.4 1438.83,475 1439.13,477.6 1439.29,480.2 1440.23,482.8 1439.7,485.4 1438.65,487.96 1438.02,490.52 1437.9,493.08 1437.21,495.64 1436.5,498.2 1437.36,500.76 1437.41,503.32 1436.96,505.88 1436.97,508.44 1437.6,511 1437.53,513.67 1437.21,516.35 1435.33,519.02 1435.78,521.7 1435.43,524.38 1434.59,527.05 1433.44,529.73 1433.3,532.4 1433.3,534.96 1432.78,537.52 1431.61,540.08 1431.82,542.64 1431.2,545.2 1431.71,548.6 1433,552 1434.66,554.55 1437.6,557.1 1450,562 1465.3,566.7 1480.02,570.4 1495.2,574.1 1501.6,578.4 1500.95,580.96 1500.61,583.52 1500.55,586.08 1500.39,588.64 1499.5,591.2 1500.99,594.18 1501.85,597.16 1502.71,600.14 1503.27,603.12 1503.7,606.1 1506.3,608.97 1508.98,611.83 1512.3,614.7 1517.8,617.35 1523.01,620 1528.52,622.65 1533.6,625.3 1537.29,627.9 1541.68,630.5 1546.96,633.1 1550.77,635.7 1555.16,638.3 1558.58,640.9 1563.4,643.5 1565.06,646.7 1567.57,649.9 1568.8,653.1 1568.64,655.93 1568.75,658.77 1567.7,661.6 1565.84,664.1 1564.77,666.6 1563.4,669.1 1559.57,672.02 1554.82,674.95 1551.05,677.88 1546.4,680.8 1546.49,683.63 1545.87,686.47 1546.4,689.3 1533.6,691.5 1522.39,694.7 1512.3,697.9 1509.56,700.46 1504.93,703.02 1501.61,705.58 1498.39,708.14 1495.2,710.7 1488.05,713.85 1480.3,717 1473.9,721.3 1474.4,724.5 1473.9,727.7 1471,730.53 1468.16,733.37 1465.3,736.2 1464.65,739.4 1463.2,742.6 1467.5,746.9 1473.59,749.55 1480.3,752.2 1496.12,755.4 1512.3,758.6 1537.9,762.9 1548.5,766.1 1617.8,773.6 1640,776" fill="none" stroke="#00ff00" stroke-width="2.08" stroke-linejoin="round" stroke-linecap="butt" clip-path="url(#c4)"/>
<polyline points="1370,823.4 1640,823.4" fill="none" stroke="#00ff00" stroke-width="2.08" stroke-linejoin="round" stroke-linecap="butt" clip-path="url(#c4)"/>
<polyline points="1370,906 1640,906" fill="none" stroke="#00ff00" stroke-width="2.08" stroke-linejoin="round" stroke-linecap="butt" clip-path="url(#c4)"/>
<polyline points="1370,1035 1640,1035" fill="none" stroke="#00ff00" stroke-width="2.08" stroke-linejoin="round" stroke-linecap="butt" clip-path="url(#c4)"/>
<polyline points="1640,953.5 1617.8,954.4 1612.5,955.9 1563.4,960.8 1561.3,965 1540,967.2 1544.3,970.4 1537.9,973.6 1536.62,976.27 1535.55,978.95 1534.2,981.62 1532.5,984.3 1535.51,987.13 1537.2,989.97 1540,992.8 1546.4,994.9 1544.3,999.2 1550.6,1003.4 1557.65,1006.1 1563.4,1008.8 1567.7,1013 1577.3,1015.2 1604,1019.4 1617.8,1022.2 1640,1025" fill="none" stroke="#00ff00" stroke-width="2.08" stroke-linejoin="round" stroke-linecap="butt" clip-path="url(#c4)"/>
<polyline points="1370,1059.5 1387.5,1060 1399.2,1067.4 1408,1076 1415.2,1089.8" fill="none" stroke="#00ff00" stroke-width="2.08" stroke-linejoin="round" stroke-linecap="butt" clip-path="url(#c4)"/>
<rect x="1387.4" y="123.3" width="231.1" height="1075.1" fill="none" stroke="#000" stroke-width="1.11"/>
<path d="M1381.4 1198.4H1387.4M1618.5 1198.4H1624.5M1381.4 983.38H1387.4M1618.5 983.38H1624.5M1381.4 768.36H1387.4M1618.5 768.36H1624.5M1381.4 553.34H1387.4M1618.5 553.34H1624.5M1381.4 338.32H1387.4M1618.5 338.32H1624.5M1381.4 123.3H1387.4M1618.5 123.3H1624.5M1387.4 1198.4V1204.4M1387.4 117.3V123.3M1464.43 1198.4V1204.4M1464.43 117.3V123.3M1541.47 1198.4V1204.4M1541.47 117.3V123.3M1618.5 1198.4V1204.4M1618.5 117.3V123.3" stroke="#000" stroke-width="2.08" fill="none"/>
<text x="1378.5" y="1205.2" font-size="16.2" text-anchor="end">0</text>
<text x="1378.5" y="990.18" font-size="16.2" text-anchor="end">1</text>
<text x="1378.5" y="775.16" font-size="16.2" text-anchor="end">2</text>
<text x="1378.5" y="560.14" font-size="16.2" text-anchor="end">3</text>
<text x="1378.5" y="345.12" font-size="16.2" text-anchor="end">4</text>
<text x="1378.5" y="130.1" font-size="16.2" text-anchor="end">5</text>
<text x="1387.4" y="1219.7" font-size="16.2" text-anchor="middle">0.0</text>
<text x="1464.43" y="1219.7" font-size="16.2" text-anchor="middle">0.1</text>
<text x="1541.47" y="1219.7" font-size="16.2" text-anchor="middle">0.2</text>
<text x="1618.5" y="1219.7" font-size="16.2" text-anchor="middle">0.3</text>
<path d="M1700.4 123.3V1198.4M1793.24 123.3V1198.4M1886.08 123.3V1198.4M1700.4 983.38H1932.5M1700.4 768.36H1932.5M1700.4 553.34H1932.5M1700.4 338.32H1932.5" stroke="#b0b0b0" stroke-width="1.1" fill="none"/>
<rect x="1700.4" y="123.3" width="232.1" height="1075.1" fill="none" stroke="#000" stroke-width="1.11"/>
<path d="M1694.4 1198.4H1700.4M1932.5 1198.4H1938.5M1694.4 983.38H1700.4M1932.5 983.38H1938.5M1694.4 768.36H1700.4M1932.5 768.36H1938.5M1694.4 553.34H1700.4M1932.5 553.34H1938.5M1694.4 338.32H1700.4M1932.5 338.32H1938.5M1694.4 123.3H1700.4M1932.5 123.3H1938.5M1700.4 1198.4V1204.4M1793.24 1198.4V1204.4M1886.08 1198.4V1204.4M1700.4 117.3V123.3M1758.43 117.3V123.3M1816.45 117.3V123.3M1874.47 117.3V123.3M1932.5 117.3V123.3" stroke="#000" stroke-width="2.08" fill="none"/>
<text x="1691.5" y="1205.2" font-size="16.2" text-anchor="end">0</text>
<text x="1691.5" y="990.18" font-size="16.2" text-anchor="end">1</text>
<text x="1691.5" y="775.16" font-size="16.2" text-anchor="end">2</text>
<text x="1691.5" y="560.14" font-size="16.2" text-anchor="end">3</text>
<text x="1691.5" y="345.12" font-size="16.2" text-anchor="end">4</text>
<text x="1691.5" y="130.1" font-size="16.2" text-anchor="end">5</text>
<text x="1700.4" y="1219.7" font-size="16.2" text-anchor="middle">0</text>
<text x="1793.24" y="1219.7" font-size="16.2" text-anchor="middle">20</text>
<text x="1886.08" y="1219.7" font-size="16.2" text-anchor="middle">40</text>
<text x="1700.4" y="109.9" font-size="16.2" text-anchor="middle">0</text>
<text x="1758.43" y="109.9" font-size="16.2" text-anchor="middle">25</text>
<text x="1816.45" y="109.9" font-size="16.2" text-anchor="middle">50</text>
<text x="1874.47" y="109.9" font-size="16.2" text-anchor="middle">75</text>
<text x="1932.5" y="109.9" font-size="16.2" text-anchor="middle">100</text>
<text x="248.38" y="1248.1" font-size="20.1" text-anchor="middle">Backsc. coeff. [Msr<tspan font-family="'DejaVu Sans', 'Liberation Sans', sans-serif" font-size="14.07" dy="-7.6">−1</tspan><tspan dy="7.6"> m</tspan><tspan font-family="'DejaVu Sans', 'Liberation Sans', sans-serif" font-size="14.07" dy="-7.6">−1</tspan><tspan dy="7.6">]</tspan></text>
<text x="562.05" y="1247.6" font-size="20.1" text-anchor="middle">Extinct. coeff. [Mm<tspan font-family="'DejaVu Sans', 'Liberation Sans', sans-serif" font-size="14.07" dy="-7.6">−1</tspan><tspan dy="7.6">]</tspan></text>
<text x="875.55" y="1244.2" font-size="20.1" text-anchor="middle">Lidar ratio [Sr]</text>
<text x="1189.35" y="1249.5" font-size="20.1" text-anchor="middle"><tspan font-family="'DejaVu Sans', 'Liberation Sans', sans-serif" font-style="italic">Å</tspan>ngström Exp.</text>
<text x="1502.95" y="1244.2" font-size="20.1" text-anchor="middle">Depol. ratio</text>
<text x="1816.45" y="1247.6" font-size="20.1" text-anchor="middle">WVMR [<tspan font-family="'DejaVu Sans', 'Liberation Sans', sans-serif" font-style="italic">g</tspan><tspan font-family="'DejaVu Sans', 'Liberation Sans', sans-serif"> * </tspan><tspan font-family="'DejaVu Sans', 'Liberation Sans', sans-serif" font-style="italic">kg</tspan><tspan font-family="'DejaVu Sans', 'Liberation Sans', sans-serif" font-size="14.07" dy="-7.6">−1</tspan><tspan dy="7.6">]</tspan></text>
<text x="1816.45" y="93.1" font-size="20.1" text-anchor="middle">Rel.Humidity [%]</text>
<text x="0" y="0" font-size="20.1" text-anchor="middle" transform="translate(103.6 661.35) rotate(-90)">Height [km]</text>
<rect x="579.6" y="230.5" width="94.3" height="63.1" fill="#f1f2f6"/>
<text x="586.2" y="246.8" font-size="12.3">LR<tspan font-family="'DejaVu Sans', 'Liberation Sans', sans-serif" font-size="8.61" dy="2.0">355</tspan><tspan dy="-2.0">: 45.00</tspan></text>
<text x="586.2" y="264.4" font-size="12.3">LR<tspan font-family="'DejaVu Sans', 'Liberation Sans', sans-serif" font-size="8.61" dy="2.0">532</tspan><tspan dy="-2.0">: 40.00</tspan></text>
<text x="586.2" y="283.4" font-size="12.3">LR<tspan font-family="'DejaVu Sans', 'Liberation Sans', sans-serif" font-size="8.61" dy="2.0">1064</tspan><tspan dy="-2.0">: 50.00</tspan></text>
<rect x="142.5" y="131.5" width="214" height="228.24" rx="3" ry="3" fill="#fff" fill-opacity="0.8" stroke="#cccccc" stroke-opacity="0.8" stroke-width="1.1"/>
<line x1="148" y1="144.9" x2="178.3" y2="144.9" stroke="#0000ff" stroke-width="2.08" stroke-linecap="square"/>
<text x="192.3" y="150.8" font-size="15.3">aerBsc_raman_355</text>
<line x1="148" y1="169.7" x2="178.3" y2="169.7" stroke="#008000" stroke-width="2.08" stroke-linecap="square"/>
<text x="192.3" y="175.6" font-size="15.3">aerBsc_raman_532</text>
<line x1="148" y1="194.5" x2="178.3" y2="194.5" stroke="#ff0000" stroke-width="2.08" stroke-linecap="square"/>
<text x="192.3" y="200.4" font-size="15.3">aerBsc_raman_1064</text>
<line x1="148" y1="219.3" x2="178.3" y2="219.3" stroke="#800080" stroke-width="2.08" stroke-dasharray="5.8,2.6"/>
<text x="192.3" y="225.2" font-size="15.3">aerBsc_RR_355</text>
<line x1="148" y1="244.1" x2="178.3" y2="244.1" stroke="#808000" stroke-width="2.08" stroke-dasharray="5.8,2.6"/>
<text x="192.3" y="250" font-size="15.3">aerBsc_RR_532</text>
<line x1="148" y1="268.9" x2="178.3" y2="268.9" stroke="#ffa07a" stroke-width="2.08" stroke-dasharray="5.8,2.6"/>
<text x="192.3" y="274.8" font-size="15.3">aerBsc_RR_1064</text>
<line x1="148" y1="293.7" x2="178.3" y2="293.7" stroke="#00ffff" stroke-width="2.08" stroke-linecap="square"/>
<text x="192.3" y="299.6" font-size="15.3">aerBsc_klett_355</text>
<line x1="148" y1="318.5" x2="178.3" y2="318.5" stroke="#00ff00" stroke-width="2.08" stroke-linecap="square"/>
<text x="192.3" y="324.4" font-size="15.3">aerBsc_klett_532</text>
<line x1="148" y1="343.3" x2="178.3" y2="343.3" stroke="#fa8072" stroke-width="2.08" stroke-linecap="square"/>
<text x="192.3" y="349.2" font-size="15.3">aerBsc_klett_1064</text>
<rect x="429.4" y="131.6" width="241.1" height="228.24" rx="3" ry="3" fill="#fff" fill-opacity="0.8" stroke="#cccccc" stroke-opacity="0.8" stroke-width="1.1"/>
<line x1="434.9" y1="145" x2="465.2" y2="145" stroke="#0000ff" stroke-width="2.08" stroke-linecap="square"/>
<text x="479.2" y="150.9" font-size="15.3">aerExt_raman_355</text>
<line x1="434.9" y1="169.8" x2="465.2" y2="169.8" stroke="#008000" stroke-width="2.08" stroke-linecap="square"/>
<text x="479.2" y="175.7" font-size="15.3">aerExt_raman_532</text>
<line x1="434.9" y1="194.6" x2="465.2" y2="194.6" stroke="#ff0000" stroke-width="2.08" stroke-linecap="square"/>
<text x="479.2" y="200.5" font-size="15.3">aerExt_raman_1064</text>
<line x1="434.9" y1="219.4" x2="465.2" y2="219.4" stroke="#800080" stroke-width="2.08" stroke-dasharray="5.8,2.6"/>
<text x="479.2" y="225.3" font-size="15.3">aerExt_RR_355</text>
<line x1="434.9" y1="244.2" x2="465.2" y2="244.2" stroke="#808000" stroke-width="2.08" stroke-dasharray="5.8,2.6"/>
<text x="479.2" y="250.1" font-size="15.3">aerExt_RR_532</text>
<line x1="434.9" y1="269" x2="465.2" y2="269" stroke="#ffa07a" stroke-width="2.08" stroke-dasharray="5.8,2.6"/>
<text x="479.2" y="274.9" font-size="15.3">aerExt_RR_1064</text>
<line x1="434.9" y1="293.8" x2="465.2" y2="293.8" stroke="#00ffff" stroke-width="2.08" stroke-linecap="square"/>
<text x="479.2" y="299.7" font-size="15.3">aerBsc_klett_355 x LR</text>
<line x1="434.9" y1="318.6" x2="465.2" y2="318.6" stroke="#00ff00" stroke-width="2.08" stroke-linecap="square"/>
<text x="479.2" y="324.5" font-size="15.3">aerBsc_klett_532 x LR</text>
<line x1="434.9" y1="343.4" x2="465.2" y2="343.4" stroke="#fa8072" stroke-width="2.08" stroke-linecap="square"/>
<text x="479.2" y="349.3" font-size="15.3">aerBsc_klett_1064 x LR</text>
<rect x="775.6" y="131.6" width="207.9" height="153.69" rx="3" ry="3" fill="#fff" fill-opacity="0.8" stroke="#cccccc" stroke-opacity="0.8" stroke-width="1.1"/>
<line x1="781.1" y1="145" x2="811.4" y2="145" stroke="#0000ff" stroke-width="2.08" stroke-linecap="square"/>
<text x="825.4" y="150.9" font-size="15.3">aerLR_raman_355</text>
<line x1="781.1" y1="169.8" x2="811.4" y2="169.8" stroke="#008000" stroke-width="2.08" stroke-linecap="square"/>
<text x="825.4" y="175.7" font-size="15.3">aerLR_raman_532</text>
<line x1="781.1" y1="194.6" x2="811.4" y2="194.6" stroke="#ff0000" stroke-width="2.08" stroke-linecap="square"/>
<text x="825.4" y="200.5" font-size="15.3">aerLR_raman_1064</text>
<line x1="781.1" y1="219.4" x2="811.4" y2="219.4" stroke="#800080" stroke-width="2.08" stroke-dasharray="5.8,2.6"/>
<text x="825.4" y="225.3" font-size="15.3">aerLR_RR_355</text>
<line x1="781.1" y1="244.2" x2="811.4" y2="244.2" stroke="#808000" stroke-width="2.08" stroke-dasharray="5.8,2.6"/>
<text x="825.4" y="250.1" font-size="15.3">aerLR_RR_532</text>
<line x1="781.1" y1="269" x2="811.4" y2="269" stroke="#ffa07a" stroke-width="2.08" stroke-dasharray="5.8,2.6"/>
<text x="825.4" y="274.9" font-size="15.3">aerLR_RR_1064</text>
<rect x="1021.7" y="131.2" width="275.5" height="79.14" rx="3" ry="3" fill="#fff" fill-opacity="0.8" stroke="#cccccc" stroke-opacity="0.8" stroke-width="1.1"/>
<line x1="1027.2" y1="144.6" x2="1057.5" y2="144.6" stroke="#ffa500" stroke-width="2.08" stroke-linecap="square"/>
<text x="1071.5" y="150.5" font-size="15.3">AE_beta_355_532_Raman</text>
<line x1="1027.2" y1="169.4" x2="1057.5" y2="169.4" stroke="#ff00ff" stroke-width="2.08" stroke-linecap="square"/>
<text x="1071.5" y="175.3" font-size="15.3">AE_beta_532_1064_Raman</text>
<line x1="1027.2" y1="194.2" x2="1057.5" y2="194.2" stroke="#000000" stroke-width="2.08" stroke-linecap="square"/>
<text x="1071.5" y="200.1" font-size="15.3">AE_parExt_355_532_Raman</text>
<rect x="1378.4" y="131.6" width="233.1" height="153.69" rx="3" ry="3" fill="#fff" fill-opacity="0.8" stroke="#cccccc" stroke-opacity="0.8" stroke-width="1.1"/>
<line x1="1383.9" y1="145" x2="1414.2" y2="145" stroke="#0000ff" stroke-width="2.08" stroke-linecap="square"/>
<text x="1428.2" y="150.9" font-size="15.3">parDepol_raman_355</text>
<line x1="1383.9" y1="169.8" x2="1414.2" y2="169.8" stroke="#008000" stroke-width="2.08" stroke-linecap="square"/>
<text x="1428.2" y="175.7" font-size="15.3">parDepol_raman_532</text>
<line x1="1383.9" y1="194.6" x2="1414.2" y2="194.6" stroke="#ff0000" stroke-width="2.08" stroke-linecap="square"/>
<text x="1428.2" y="200.5" font-size="15.3">parDepol_raman_1064</text>
<line x1="1383.9" y1="219.4" x2="1414.2" y2="219.4" stroke="#00ffff" stroke-width="2.08" stroke-linecap="square"/>
<text x="1428.2" y="225.3" font-size="15.3">parDepol_klett_355</text>
<line x1="1383.9" y1="244.2" x2="1414.2" y2="244.2" stroke="#00ff00" stroke-width="2.08" stroke-linecap="square"/>
<text x="1428.2" y="250.1" font-size="15.3">parDepol_klett_532</text>
<line x1="1383.9" y1="269" x2="1414.2" y2="269" stroke="#fa8072" stroke-width="2.08" stroke-linecap="square"/>
<text x="1428.2" y="274.9" font-size="15.3">parDepol_klett_1064</text>
<rect x="1814.4" y="131.6" width="109.9" height="29.44" rx="3" ry="3" fill="#fff" fill-opacity="0.8" stroke="#cccccc" stroke-opacity="0.8" stroke-width="1.1"/>
<line x1="1819.9" y1="145" x2="1850.2" y2="145" stroke="#0000ff" stroke-width="2.08" stroke-linecap="square"/>
<text x="1864.2" y="150.9" font-size="15.3">WVMR</text>
<rect x="1820.4" y="185.5" width="80.8" height="29.44" rx="3" ry="3" fill="#fff" fill-opacity="0.8" stroke="#cccccc" stroke-opacity="0.8" stroke-width="1.1"/>
<line x1="1825.9" y1="198.9" x2="1856.2" y2="198.9" stroke="#008000" stroke-width="2.08" stroke-linecap="square"/>
<text x="1870.2" y="204.8" font-size="15.3">RH</text>
<rect x="1486.2" y="330.3" width="96.7" height="72.5" fill="#f1f2f6" fill-opacity="0.9"/>
<text x="1492" y="349.6" font-size="15.4"><tspan font-family="'DejaVu Sans', 'Liberation Sans', sans-serif" font-style="italic">η</tspan><tspan font-family="'DejaVu Sans', 'Liberation Sans', sans-serif" font-size="10.78" dy="2.0">355</tspan><tspan dy="-2.0">: 10.06</tspan></text>
<text x="1492" y="371.3" font-size="15.4"><tspan font-family="'DejaVu Sans', 'Liberation Sans', sans-serif" font-style="italic">η</tspan><tspan font-family="'DejaVu Sans', 'Liberation Sans', sans-serif" font-size="10.78" dy="2.0">532</tspan><tspan dy="-2.0">: 6.08</tspan></text>
<text x="1492" y="391.5" font-size="15.4"><tspan font-family="'DejaVu Sans', 'Liberation Sans', sans-serif" font-style="italic">η</tspan><tspan font-family="'DejaVu Sans', 'Liberation Sans', sans-serif" font-size="10.78" dy="2.0">1064</tspan><tspan dy="-2.0">: nan</tspan></text>
<rect x="195" y="1276" width="210.1" height="66.1" fill="#f1f2f6"/>
<text x="200" y="1294.8" font-size="15.4">ref.H_355: 3.86-5.35 km</text>
<text x="200" y="1314.2" font-size="15.4">ref.H_532: 3.91-4.79 km</text>
<text x="200" y="1333.8" font-size="15.4">ref.H_1064: 4.17-4.91 km</text>
<rect x="1695.1" y="1274.2" width="164.8" height="27.7" fill="#f1f2f6"/>
<text x="1699.9" y="1291.7" font-size="15.4">WV-calib.const.: 3.8</text>
<text x="1001" y="1327.8" font-size="13.3" font-weight="bold" fill="#ff1a1a">Preliminary</text>
<text x="1001" y="1342.8" font-size="13.3" font-weight="bold" fill="#ff1a1a">Results.</text>
<text x="1500.6" y="1331.8" font-size="11.1" font-weight="bold">© TROPOS 2026.</text>
<text x="1500" y="1343.6" font-size="11.1" font-weight="bold">CC BY SA 4.0 License.</text>
<g>
<path d="M664.7 1297.4 H815.3 Q817.8 1297.4 817.8 1299.9 V1351.8 H662.2 V1299.9 Q662.2 1297.4 664.7 1297.4 Z" fill="#333333"/>
<rect x="663.4" y="1298.6" width="153.2" height="37.2" fill="#aab2ab"/>
<clipPath id="cclip"><rect x="663.4" y="1298.6" width="153.2" height="52"/></clipPath>
<circle cx="689.3" cy="1322.5" r="24.8" fill="#aab2ab" clip-path="url(#cclip)"/>
<circle cx="689.2" cy="1322.6" r="20.2" fill="#333333"/>
<circle cx="689.2" cy="1322.6" r="17.0" fill="#ffffff"/>
<text x="689.0" y="1329.3" font-size="22" font-weight="bold" text-anchor="middle" font-family="'DejaVu Sans', 'Liberation Sans', sans-serif" fill="#333333" letter-spacing="-1.2">cc</text>
<circle cx="744.2" cy="1316.5" r="15.0" fill="#333333"/>
<circle cx="744.2" cy="1316.5" r="12.3" fill="#ffffff"/>
<circle cx="744.2" cy="1308.8" r="1.7" fill="#333333"/>
<path d="M740.3 1311.6 H748.1 V1318.6 H746.6 V1326.0 H741.8 V1318.6 H740.3 Z" fill="#333333"/>
<circle cx="781.1" cy="1316.5" r="15.0" fill="#333333"/>
<circle cx="781.1" cy="1316.5" r="12.3" fill="#ffffff"/>
<path d="M775.5 1314.2 A6.6 6.6 0 1 1 777.0 1321.2" fill="none" stroke="#333333" stroke-width="2.9"/>
<path d="M772.0 1313.0 L779.4 1313.0 L775.6 1318.0 Z" fill="#333333"/>
<text x="743.6" y="1348.6" font-size="11.2" font-weight="bold" text-anchor="middle" font-family="'DejaVu Sans', 'Liberation Sans', sans-serif" fill="#ffffff">BY</text>
<text x="779.9" y="1348.6" font-size="11.2" font-weight="bold" text-anchor="middle" font-family="'DejaVu Sans', 'Liberation Sans', sans-serif" fill="#ffffff">SA</text>
</g>
</svg></body></html>
